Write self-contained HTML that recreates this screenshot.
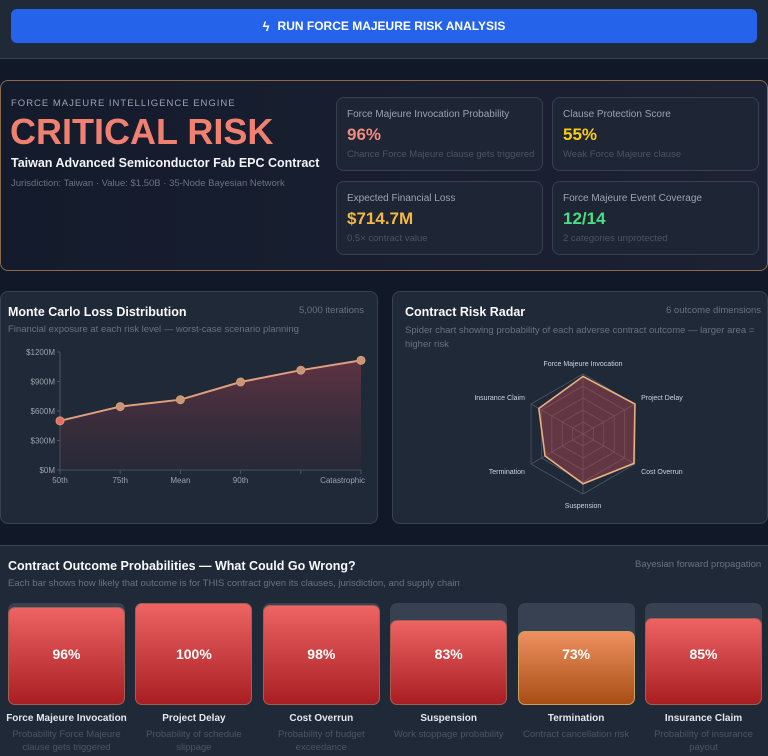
<!DOCTYPE html>
<html><head><meta charset="utf-8">
<style>
*{box-sizing:border-box;margin:0;padding:0}
body{width:768px;height:756px;overflow:hidden;background:#111827;font-family:"Liberation Sans",sans-serif;color:#e5e7eb;position:relative}
.abs{position:absolute}
.topbar{left:0;top:0;width:768px;height:59px;background:#1f2937;border-bottom:1px solid #374151}
.btn{left:11px;top:9px;width:746px;height:34px;background:#2563eb;border-radius:6px;color:#fff;font-weight:bold;font-size:12px;display:flex;align-items:center;justify-content:center;gap:8px}
.hero{left:0;top:80px;width:768px;height:191px;border:1px solid #8a6a4a;border-radius:8px;background:linear-gradient(90deg,#141b2c,#1c2233)}
.card{border:1px solid #374151;border-radius:8px;background:#1e2535;width:207px;height:74px}
.card .t{position:absolute;left:10px;top:11px;font-size:10px;color:#9ca3af}
.card .v{position:absolute;left:10px;top:27px;font-size:17px;font-weight:bold}
.card .s{position:absolute;left:10px;top:51px;font-size:9.5px;color:#4b5563}
.panel{background:#1f2937;border:1px solid #374151;border-radius:8px}
.ptitle{font-size:12.5px;font-weight:bold;color:#f9fafb}
.psub{font-size:9.5px;color:#6b7280}
.bar-lbl{font-size:10px;font-weight:bold;color:#e5e7eb;text-align:center;width:127px}
.bar-desc{font-size:9.5px;color:#4b5563;text-align:center;width:127px;line-height:13px}
</style></head><body>
<div class="abs topbar"></div>
<div class="abs btn"><span style="font-size:13px">ϟ</span>RUN FORCE MAJEURE RISK ANALYSIS</div>

<div class="abs hero"></div>
<div class="abs" style="left:11px;top:98px;font-size:9.5px;letter-spacing:1px;color:#9ca3af">FORCE MAJEURE INTELLIGENCE ENGINE</div>
<div class="abs" style="left:10px;top:111px;font-size:36px;font-weight:bold;color:#f08070;letter-spacing:0px">CRITICAL RISK</div>
<div class="abs" style="left:11px;top:156px;font-size:12.5px;font-weight:bold;color:#f3f4f6">Taiwan Advanced Semiconductor Fab EPC Contract</div>
<div class="abs" style="left:11px;top:178px;font-size:9.5px;color:#6b7280">Jurisdiction: Taiwan · Value: $1.50B · 35-Node Bayesian Network</div>

<div class="abs card" style="left:336px;top:97px"><div class="t">Force Majeure Invocation Probability</div><div class="v" style="color:#f28b7e">96%</div><div class="s">Chance Force Majeure clause gets triggered</div></div>
<div class="abs card" style="left:552px;top:97px"><div class="t">Clause Protection Score</div><div class="v" style="color:#facc15">55%</div><div class="s">Weak Force Majeure clause</div></div>
<div class="abs card" style="left:336px;top:181px"><div class="t">Expected Financial Loss</div><div class="v" style="color:#f5b942">$714.7M</div><div class="s">0.5× contract value</div></div>
<div class="abs card" style="left:552px;top:181px"><div class="t">Force Majeure Event Coverage</div><div class="v" style="color:#4ade80">12/14</div><div class="s">2 categories unprotected</div></div>

<div class="abs panel" style="left:0;top:291px;width:378px;height:233px"></div>
<div class="abs ptitle" style="left:8px;top:305px">Monte Carlo Loss Distribution</div>
<div class="abs psub" style="left:299px;top:305px">5,000 iterations</div>
<div class="abs psub" style="left:8px;top:324px">Financial exposure at each risk level — worst-case scenario planning</div>
<svg class="abs" id="lossChart" style="left:0;top:340px" width="378" height="150"></svg>

<div class="abs panel" style="left:392px;top:291px;width:376px;height:233px"></div>
<div class="abs ptitle" style="left:405px;top:305px">Contract Risk Radar</div>
<div class="abs psub" style="left:666px;top:305px">6 outcome dimensions</div>
<div class="abs psub" style="left:405px;top:324px;width:355px;line-height:14px">Spider chart showing probability of each adverse contract outcome — larger area = higher risk</div>
<svg class="abs" id="radar" style="left:392px;top:350px" width="376" height="170"></svg>

<div class="abs" style="left:0;top:545px;width:768px;height:211px;background:#1f2937;border-top:1px solid #374151"></div>
<div class="abs ptitle" style="left:8px;top:559px">Contract Outcome Probabilities — What Could Go Wrong?</div>
<div class="abs psub" style="left:635px;top:559px">Bayesian forward propagation</div>
<div class="abs psub" style="left:8px;top:578px">Each bar shows how likely that outcome is for THIS contract given its clauses, jurisdiction, and supply chain</div>
<div id="bars"></div>

<script>
const lossCats=['50th','75th','Mean','90th','','Catastrophic'];
const lossVals=[500,645,715,895,1015,1115];
const lossTicks=[0,300,600,900,1200];

const radarCats=['Force Majeure Invocation','Project Delay','Cost Overrun','Suspension','Termination','Insurance Claim'];
const radarVals=[96,100,98,83,73,85];

const barNames=['Force Majeure Invocation','Project Delay','Cost Overrun','Suspension','Termination','Insurance Claim'];
const barVals=[96,100,98,83,73,85];
const barDescs=['Probability Force Majeure clause gets triggered','Probability of schedule slippage','Probability of budget exceedance','Work stoppage probability','Contract cancellation risk','Probability of insurance payout'];

const NS='http://www.w3.org/2000/svg';
function mk(p,tag,at){const e=document.createElementNS(NS,tag);for(const k in at)e.setAttribute(k,at[k]);p.appendChild(e);return e;}

(function(){
const svg=document.getElementById('lossChart');
const x0=60,x1=361,yTop=12,yBot=130;
const xs=i=>x0+(x1-x0)*i/(lossCats.length-1);
const ys=v=>yBot-(yBot-yTop)*v/1200;
const defs=mk(svg,'defs',{});
const g=mk(defs,'linearGradient',{id:'lg',x1:0,y1:0,x2:0,y2:1});
mk(g,'stop',{offset:0,'stop-color':'#8b3a4a','stop-opacity':0.6});
mk(g,'stop',{offset:1,'stop-color':'#3a2a3a','stop-opacity':0.3});
mk(svg,'line',{x1:x0,y1:yTop,x2:x0,y2:yBot,stroke:'#4b5563'});
mk(svg,'line',{x1:x0,y1:yBot,x2:x1,y2:yBot,stroke:'#4b5563'});
lossTicks.forEach(t=>{
 mk(svg,'line',{x1:x0-3,y1:ys(t),x2:x0,y2:ys(t),stroke:'#4b5563'});
 const tx=mk(svg,'text',{x:x0-5,y:ys(t)+3,'text-anchor':'end','font-size':8,fill:'#9ca3af'});
 tx.textContent='$'+t+'M';
});
lossCats.forEach((c,i)=>{
 mk(svg,'line',{x1:xs(i),y1:yBot,x2:xs(i),y2:yBot+4,stroke:'#4b5563'});
 const tx=mk(svg,'text',{x:xs(i),y:yBot+13,'text-anchor':i==lossCats.length-1?'end':'middle','font-size':8,fill:'#9ca3af'});
 if(i==lossCats.length-1)tx.setAttribute('x',xs(i)+4);
 tx.textContent=c;
});
let d='';lossVals.forEach((v,i)=>{d+=(i?'L':'M')+xs(i)+' '+ys(v);});
const area=mk(svg,'path',{d:d+'L'+xs(lossVals.length-1)+' '+yBot+'L'+x0+' '+yBot+'Z',fill:'url(#lg)'});

const ln=mk(svg,'path',{d:d,fill:'none',stroke:'#e0a080','stroke-width':2});

lossVals.forEach((v,i)=>{
 const c=mk(svg,'circle',{cx:xs(i),cy:ys(v),r:4,fill:i==0?'#e86a6a':'#c9957a',stroke:'#d4a070','stroke-width':1});
 
});
})();

(function(){
const svg=document.getElementById('radar');
const cx=191,cy=84,R=60,n=radarCats.length;
const pt=(i,r)=>{const a=-Math.PI/2+2*Math.PI*i/n;return [cx+r*Math.cos(a),cy+r*Math.sin(a)];};
[0.2,0.4,0.6,0.8,1].forEach(f=>{
 mk(svg,'polygon',{points:radarCats.map((_,i)=>pt(i,R*f).join(',')).join(' '),fill:'none',stroke:'#4b5563','stroke-width':0.8});
});
radarCats.forEach((c,i)=>{
 const p=pt(i,R);mk(svg,'line',{x1:cx,y1:cy,x2:p[0],y2:p[1],stroke:'#4b5563','stroke-width':0.8});
 const q=pt(i,R+(i==0||i==3?8:14));
 let anchor='middle';if(q[0]>cx+5)anchor='start';if(q[0]<cx-5)anchor='end';
 const t=mk(svg,'text',{x:q[0]+(anchor=='start'?-6:anchor=='end'?6:0),y:q[1]+(i==0?0:i==3?6:3),'text-anchor':anchor,'font-size':7,fill:'#cbd5e1'});
 t.textContent=c;
});
const poly=mk(svg,'polygon',{points:radarVals.map((v,i)=>pt(i,R*v/100).join(',')).join(' '),fill:'rgba(180,70,80,0.45)',stroke:'#e8b080','stroke-width':1.6});

})();

(function(){
const host=document.getElementById('bars');
const top=603,H=102,W=117,step=127.4,x0=8;
barVals.forEach((v,i)=>{
 const x=x0+i*step;
 const tr=document.createElement('div');
 tr.className='abs';tr.style.cssText=`left:${x}px;top:${top}px;width:${W}px;height:${H}px;background:#374151;border-radius:7px`;
 
 host.appendChild(tr);
 const h=H*v/100;
 const orange=v<80;
 const b=document.createElement('div');
 b.className='abs';b.style.cssText=`left:${x}px;top:${top+H-h}px;width:${W}px;height:${h}px;border-radius:7px;border:1px solid ${orange?'#c9a060':'#a06050'};background:linear-gradient(${orange?'#ee9060,#a84e14':'#ee6464,#a81e22'})`;
 
 
 host.appendChild(b);
 const pv=document.createElement('div');
 pv.className='abs';pv.style.cssText=`left:${x}px;top:${top+H/2-9}px;width:${W}px;height:18px;text-align:center;color:#fff;font-weight:bold;font-size:14px;line-height:18px`;
 pv.textContent=v+'%';
 
 host.appendChild(pv);
 const l=document.createElement('div');
 l.className='abs bar-lbl';l.style.left=(x-5)+'px';l.style.top='713px';l.textContent=barNames[i];
 
 host.appendChild(l);
 const dd=document.createElement('div');
 dd.className='abs bar-desc';dd.style.left=(x-5)+'px';dd.style.top='728px';dd.textContent=barDescs[i];
 
 host.appendChild(dd);
});
})();
</script>
</body></html>
